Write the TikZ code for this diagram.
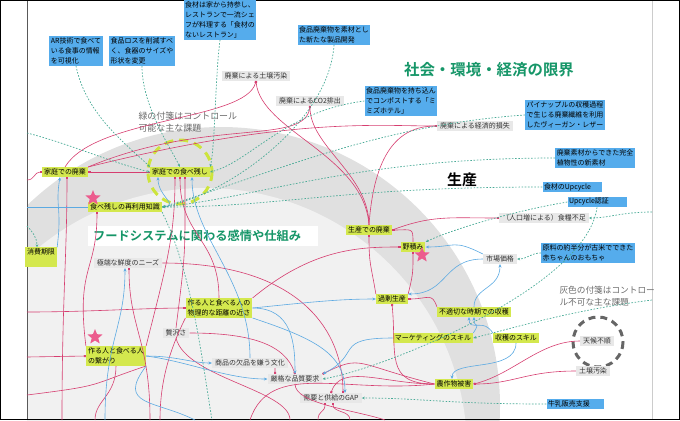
\documentclass[tikz,border=0pt]{standalone}
\usepackage{fontspec}
\setmainfont{Noto Sans CJK JP}[BoldFont={Noto Sans CJK JP Bold}]
\usetikzlibrary{arrows.meta,shapes.geometric}

\definecolor{notebl}{RGB}{85,172,236}
\definecolor{notegr}{RGB}{212,232,78}
\definecolor{notegy}{RGB}{232,232,232}
\definecolor{linepk}{RGB}{214,62,112}
\definecolor{linebl}{RGB}{92,170,226}
\definecolor{linetl}{RGB}{72,170,150}
\definecolor{titlegr}{RGB}{22,150,104}
\definecolor{starpk}{RGB}{236,92,142}
\definecolor{ringlime}{RGB}{205,228,60}
\definecolor{bandgy}{RGB}{224,224,224}
\definecolor{innergy}{RGB}{241,241,241}

\tikzset{
  bnote/.style={fill=notebl, font=\fontsize{7}{10}\selectfont, align=left, inner sep=1.5bp},
  gnote/.style={fill=notegr, font=\fontsize{7}{10}\selectfont, align=left, inner xsep=2bp, inner ysep=1.6bp},
  ynote/.style={fill=notegy, text=black!80, font=\fontsize{7}{10}\selectfont, inner xsep=3bp, inner ysep=1.6bp},
  pkarrow/.style={draw=linepk, line width=0.6bp, -{Square[length=2bp,width=2bp]}},
  pkline/.style={draw=linepk, line width=0.6bp},
  blarrow/.style={draw=linebl, line width=0.6bp, -{Stealth[length=3.5bp,width=3bp]}},
  blline/.style={draw=linebl, line width=0.6bp},
  dlarrow/.style={draw=linetl, line width=0.7bp, dash pattern=on 1.6bp off 1.6bp, -{Stealth[length=3bp,width=2.6bp]}},
  dlline/.style={draw=linetl, line width=0.7bp, dash pattern=on 1.6bp off 1.6bp},
  pinkstar/.style={star, star points=5, star point ratio=2.3, fill=starpk, minimum size=16bp, inner sep=0pt}
}

\begin{document}
\begin{tikzpicture}[x=1bp,y=-1bp]
\useasboundingbox (0,0) rectangle (680,420);

% background rings
\begin{scope}
\clip (27,0) rectangle (652,420);
\fill[bandgy] (221,406) circle (279);
\fill[innergy] (205,450) circle (262);
\end{scope}
\draw[black!65, line width=1bp] (27,0) -- (27,420);
\draw[black!20, line width=1bp] (652,0) -- (652,420);
\draw[black, line width=1.2bp] (0.6,0.6) rectangle (679.4,419.4);

% titles
\node[font=\fontsize{15.5}{18}\selectfont\bfseries, text=titlegr] (60) at (489,70) {社会・環境・経済の限界};
\node[font=\fontsize{15}{18}\selectfont\bfseries] (61) at (462,180) {生産};
\node[fill=white, anchor=west, text width=220bp, align=left, inner xsep=5bp, inner ysep=4bp,
  font=\fontsize{12.3}{15}\selectfont\bfseries, text=titlegr] (62) at (88,236) {フードシステムに関わる感情や仕組み};
\node[anchor=west, align=left, text=black!58, font=\fontsize{9}{12}\selectfont] (63) at (135,122) {緑の付箋はコントロール\\可能な主な課題};
\node[anchor=west, align=left, text=black!58, font=\fontsize{8.7}{12}\selectfont] (64) at (556,296) {灰色の付箋はコントロー\\ル不可な主な課題};

% dashed rings
\draw[ringlime, line width=3bp, dash pattern=on 9bp off 6bp] (180,172) circle (32);
\draw[black!60, line width=3bp, dash pattern=on 7bp off 5bp] (598,342) circle (25);

% blue notes
\node[bnote] (41) at (76,51) {AR技術で食べて\\いる食事の情報\\を可視化};
\node[bnote] (42) at (142,51) {食品ロスを削減すべ\\く、食器のサイズや\\形状を変更};
\node[bnote] (43) at (220,20) {食材は家から持参し、\\レストランで一流シェ\\フが料理する「食材の\\ないレストラン」};
\node[bnote] (44) at (334,35) {食品廃棄物を素材とし\\た新たな製品開発};
\node[bnote] (45) at (401,101) {食品廃棄物を持ち込ん\\でコンポストする「ミ\\ミズホテル」};
\node[bnote] (46) at (565,115) {パイナップルの収穫過程\\で生じる廃棄繊維を利用\\したヴィーガン・レザー};
\node[bnote] (47) at (595,158) {廃棄素材からできた完全\\植物性の新素材};
\node[bnote, text width=56bp] (48) at (572,187) {食材のUpcycle};
\node[bnote, text width=56bp] (49) at (597,202) {Upcycle認証};
\node[bnote] (50) at (588,253) {原料の約半分が古米でできた\\赤ちゃんのおもちゃ};
\node[bnote, text width=54bp] (51) at (575,404) {牛乳販売支援};

% grey notes
\node[ynote] (21) at (256,76) {廃棄による土壌汚染};
\node[ynote] (22) at (310,101) {廃棄によるCO2排出};
\node[ynote] (23) at (475,126) {廃棄による経済的損失};
\node[ynote] (24) at (544,218) {（人口増による）食糧不足};
\node[ynote] (25) at (500,259) {市場価格};
\node[ynote] (26) at (128,263) {極端な鮮度のニーズ};
\node[ynote] (27) at (176,333) {贅沢さ};
\node[ynote] (28) at (250,363) {商品の欠品を嫌う文化};
\node[ynote] (29) at (295,379) {厳格な品質要求};
\node[ynote] (30) at (331,398) {需要と供給のGAP};
\node[ynote] (31) at (597,341) {天候不順};
\node[ynote] (32) at (593,371) {土壌汚染};

% green notes
\node[gnote] (1) at (65,172) {家庭での廃棄};
\node[gnote] (2) at (180,172) {家庭での食べ残し};
\node[gnote] (3) at (125,207) {食べ残しの再利用知識};
\node[gnote] (4) at (41,257) {消費期限\\\mbox{}};
\node[gnote] (5) at (369,230) {生産での廃棄};
\node[gnote] (6) at (413,247) {野積み};
\node[gnote] (7) at (219,308) {作る人と食べる人の\\物理的な距離の近さ};
\node[gnote] (8) at (116,356) {作る人と食べる人\\の繋がり};
\node[gnote] (9) at (392,299) {過剰生産};
\node[gnote] (10) at (474,312) {不適切な時期での収穫};
\node[gnote] (11) at (433,338) {マーケティングのスキル};
\node[gnote] (12) at (516,338) {収穫のスキル};
\node[gnote] (13) at (454,384) {農作物被害};

% stars
\node[pinkstar] (70) at (93,198) {};
\node[pinkstar] (71) at (95,337) {};
\node[pinkstar] (72) at (422,255) {};

% loose ends at the frame
\coordinate (l1) at (27,133);
\coordinate (l2) at (27,180);
\coordinate (l3) at (27,357);
\coordinate (l4) at (27,312);
\coordinate (l5) at (27,207);
\coordinate (l7) at (27,226);
\coordinate (l8) at (27,395);
\coordinate (r1) at (652,212);
\coordinate (r2) at (652,300);
\coordinate (b1) at (318,420);
\coordinate (b2) at (350,420);
\coordinate (b3) at (150,420);
\coordinate (b5) at (105,420);
\coordinate (b7) at (212,420);
\coordinate (b8) at (95,420);
\coordinate (b9) at (160,420);
\coordinate (b10) at (250,420);
\coordinate (b11) at (385,420);
\coordinate (b12) at (62,420);
\coordinate (b13) at (195,420);
\coordinate (b14) at (290,420);

% pink links
\path[pkarrow] (2) -- (1);
\path[pkarrow] (l2) .. controls +(8,0) and +(-8,0) .. (1.west);
\path[pkarrow] (1.north) .. controls +(30,-50) and +(-10,40) .. (21.south);
\path[pkarrow] (1.north east) .. controls +(120,-50) and +(-5,40) .. (22.south);
\path[pkarrow] (1.north east) .. controls +(200,-50) and +(-60,0) .. (23.west);
\path[pkarrow] (5.north) .. controls +(-5,-70) and +(5,50) .. (21.south);
\path[pkarrow] (5.north) .. controls +(0,-50) and +(0,40) .. (22.south);
\path[pkarrow] (5.north) .. controls +(5,-70) and +(-40,0) .. (23.west);
\path[pkarrow] (5.east) .. controls +(40,-15) and +(-50,0) .. (24.west);
\path[pkarrow] (6.north) .. controls +(0,-15) and +(20,0) .. (5.east);
\path[pkarrow] (9.north west) .. controls +(-5,-30) and +(0,30) .. (5.south);
\path[pkarrow] (9.north east) .. controls +(5,-20) and +(0,20) .. (6.south);
\path[pkarrow] (7.north east) .. controls +(60,-50) and +(-40,0) .. (6.west);
\path[pkarrow] (10.north west) .. controls +(-5,-15) and +(20,0) .. (9.east);
\path[pkarrow] (13.west) .. controls +(-50,0) and +(5,50) .. (9.south);
\path[pkarrow] (13.west) .. controls +(-50,0) and +(10,-30) .. (30.north);
\path[pkarrow] (13.west) .. controls +(-80,-20) and +(40,-20) .. (29.north east);
\path[pkarrow] (31.west) .. controls +(-40,0) and +(40,-10) .. (13.east);
\path[pkarrow] (32.west) .. controls +(-50,0) and +(40,0) .. (13.east);
\path[pkarrow] ([xshift=25bp]28.south) -- ([xshift=-20bp]29.north);
\path[pkarrow] (27.east) .. controls +(60,0) and +(-10,-30) .. (29.north);
\path[pkarrow] (26.east) .. controls +(140,0) and +(0,-60) .. ([xshift=12bp]30.north);
\path[pkarrow] (8.north west) .. controls +(-10,-80) and +(0,60) .. ([xshift=-28bp]3.south);
\path[pkarrow] (8.north east) .. controls +(20,-80) and +(0,60) .. ([xshift=-5bp]2.south);
\path[pkarrow] (7.north) .. controls +(0,-60) and +(0,60) .. (2.south);
\path[pkarrow] (27.north) .. controls +(10,-80) and +(0,80) .. ([xshift=5bp]2.south);
\path[pkarrow] (b1) .. controls +(0,-10) and +(0,10) .. ([xshift=-6bp]30.south);
\path[pkarrow] (b2) .. controls +(0,-10) and +(0,10) .. ([xshift=2bp]30.south);
\path[pkarrow] (l3) -- (8.west);
\path[pkarrow] (l4) .. controls +(60,0) and +(-40,0) .. (7.west);
\path[pkarrow] (b3) .. controls +(0,-80) and +(0,60) .. ([xshift=1bp]26.south);
\path[pkarrow] (b12) .. controls +(0,-120) and +(0,80) .. ([xshift=2bp]1.south);
\path[pkline] (8.south) .. controls +(0,30) and +(0,-20) .. (b8);
\path[pkline] (7.south west) .. controls +(-20,40) and +(0,-30) .. (b9);
\path[pkline] (13.west) .. controls +(-90,10) and +(20,-60) .. (b10);
\path[pkline] (29.south) .. controls +(0,20) and +(-30,-10) .. (b11);
\path[pkline] (l8) .. controls +(80,-10) and +(-60,20) .. (8.south east);
\path[pkline] (27.south) .. controls +(10,40) and +(0,-30) .. (b14);

% blue links
\path[blarrow] (4.north east) .. controls +(5,-40) and +(-5,30) .. ([xshift=-5bp]1.south);
\path[blarrow] (3.east) .. controls +(20,0) and +(0,20) .. ([xshift=-22bp]2.south);
\path[blline] (l5) -- (3.west);
\path[blarrow] (7.east) .. controls +(50,-5) and +(-40,0) .. (9.west);
\path[blarrow] (7.east) .. controls +(40,0) and +(0,-30) .. (29.north);
\path[blarrow] (8.east) .. controls +(30,0) and +(-20,0) .. (28.west);
\path[blarrow] (8.east) .. controls +(40,5) and +(-40,0) .. (29.west);
\path[blarrow] (25.west) .. controls +(-40,0) and +(40,0) .. (9.north east);
\path[blarrow] (25.north west) .. controls +(-30,-15) and +(30,0) .. (6.east);
\path[blarrow] (10.north) .. controls +(0,-20) and +(0,25) .. (25.south);
\path[blarrow] (11.north east) .. controls +(10,-15) and +(0,15) .. ([xshift=-5bp]10.south);
\path[blarrow] (12.north west) .. controls +(-10,-15) and +(0,15) .. (10.south);
\path[blarrow] (12.south) .. controls +(0,30) and +(0,-20) .. ([xshift=-2bp]13.north);
\path[blarrow] (11.west) .. controls +(-60,0) and +(40,-20) .. (29.north east);
\path[blarrow] (7.south east) .. controls +(60,20) and +(0,-40) .. ([xshift=14bp]30.north);
\path[blarrow] (b5) .. controls +(0,-80) and +(0,60) .. ([xshift=-3bp]26.south);
\path[blarrow] (28.north) .. controls +(0,-80) and +(0,60) .. ([xshift=12bp]2.south);
\path[blline] (8.south east) .. controls +(-30,40) and +(-40,-20) .. (b13);

% green dotted links
\path[dlarrow] (41.south) .. controls +(10,50) and +(-20,-20) .. (2.north west);
\path[dlarrow] (42.south) .. controls +(0,40) and +(-10,-20) .. (2.north);
\path[dlarrow] (43.south) .. controls +(-5,40) and +(5,-20) .. (2.north east);
\path[dlarrow] (l1) .. controls +(40,10) and +(-40,-10) .. (2.west);
\path[dlarrow] (45.west) .. controls +(-80,10) and +(40,-10) .. (2.east);
\path[dlarrow] (44.south) .. controls +(-5,80) and +(60,-10) .. (3.east);
\path[dlarrow] (46.west) .. controls +(-150,10) and +(100,-30) .. (3.east);
\path[dlarrow] (47.west) .. controls +(-200,0) and +(100,-10) .. (3.east);
\path[dlarrow] (48.west) .. controls +(-200,0) and +(120,0) .. (3.east);
\path[dlarrow] (49.west) .. controls +(-60,10) and +(20,-10) .. (6.north east);
\path[dlarrow] (49.south) .. controls +(-10,80) and +(60,-10) .. (29.east);
\path[dlarrow] (50.west) .. controls +(-10,0) and +(10,0) .. (25.east);
\path[dlarrow] (51.west) .. controls +(-100,0) and +(60,0) .. (30.east);
\path[dlarrow] (r1) .. controls +(-30,0) and +(20,0) .. (24.east);
\path[dlarrow] (r2) .. controls +(-80,10) and +(40,-10) .. (11.east);
\path[dlarrow] (l7) .. controls +(5,5) and +(0,-10) .. ([xshift=-4bp]4.north);
\path[dlline] (3.south east) .. controls +(30,60) and +(-10,-60) .. (b7);
\end{tikzpicture}
\end{document}
